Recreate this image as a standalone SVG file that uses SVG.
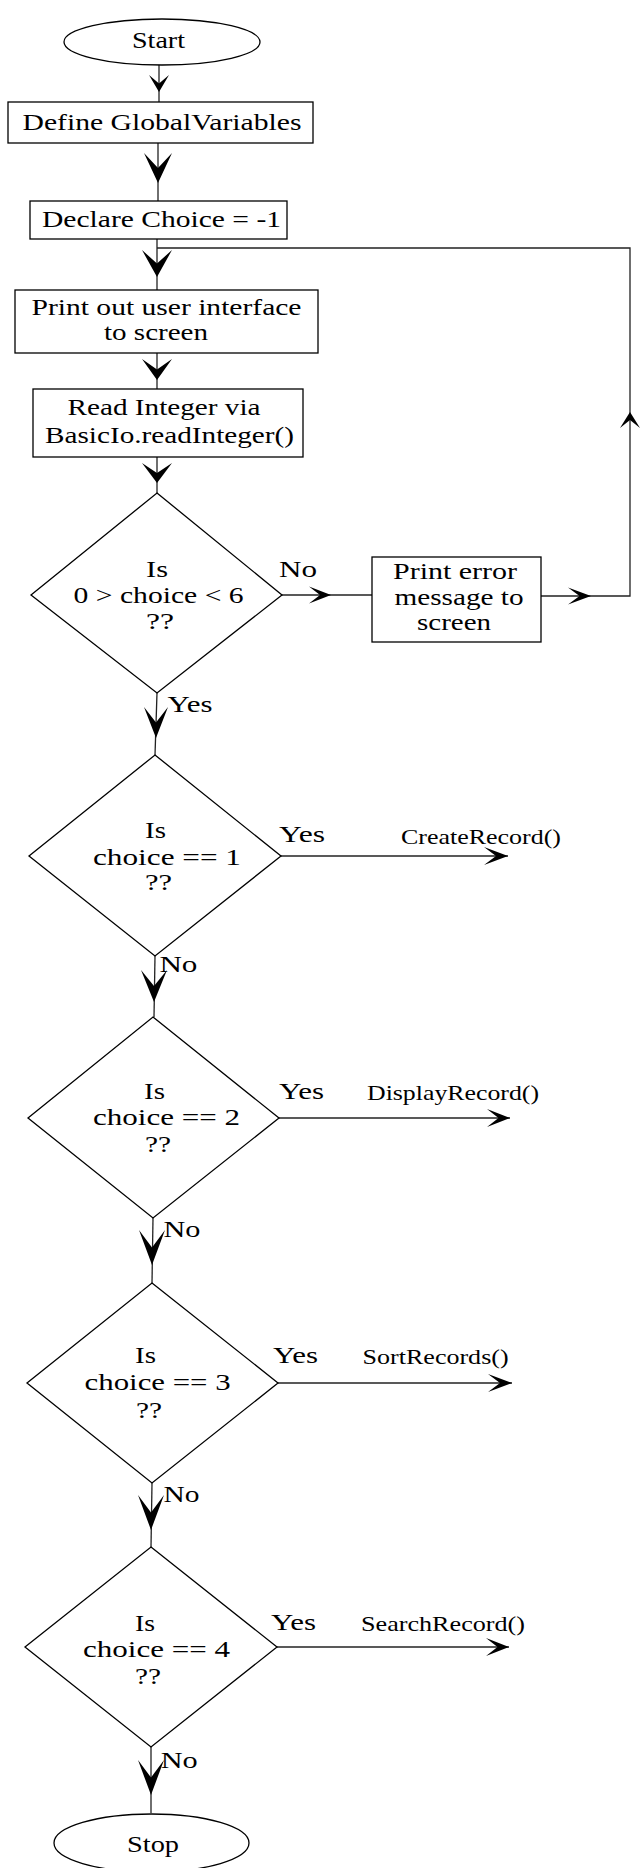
<svg xmlns="http://www.w3.org/2000/svg" xmlns:xlink="http://www.w3.org/1999/xlink" width="641" height="1868" viewBox="0 0 641 1868">
<style>
.shape{fill:#fff;stroke:#000;stroke-width:1.3}
.ln{fill:none;stroke:#222;stroke-width:1.3}
.t{font-family:"Liberation Serif","Times New Roman",serif;font-size:24px;fill:#000}
.s{font-family:"Liberation Serif","Times New Roman",serif;font-size:22px;fill:#000}
.ah{fill:#000}
</style>
<defs>
<path id="ah" d="M0,0 L-1,-0.5 L-0.5,0 L-1,0.5 Z"/>
</defs>
<rect width="641" height="1868" fill="#fff"/>
<g id="connectors">
<line class="ln" x1="159" y1="64" x2="159" y2="102"/>
<use href="#ah" class="ah" transform="translate(159,92) rotate(90) scale(17,20)"/>
<line class="ln" x1="158" y1="143" x2="158" y2="201"/>
<use href="#ah" class="ah" transform="translate(158,183) rotate(90) scale(30,28)"/>
<line class="ln" x1="157" y1="239" x2="157" y2="290"/>
<use href="#ah" class="ah" transform="translate(157,277) rotate(90) scale(27,30)"/>
<line class="ln" x1="157" y1="353" x2="157" y2="389"/>
<use href="#ah" class="ah" transform="translate(157,380) rotate(90) scale(21,30)"/>
<line class="ln" x1="157" y1="457" x2="157" y2="493"/>
<use href="#ah" class="ah" transform="translate(157,483) rotate(90) scale(20,30)"/>
<line class="ln" x1="282" y1="595" x2="372" y2="595"/>
<use href="#ah" class="ah" transform="translate(331,595) scale(22,17)"/>
<polyline class="ln" points="541,596 630,596 630,248 157,248"/>
<use href="#ah" class="ah" transform="translate(591,596) scale(23,17)"/>
<use href="#ah" class="ah" transform="translate(630,412) rotate(-90) scale(16,20)"/>
<line class="ln" x1="157" y1="693" x2="155" y2="755"/>
<use href="#ah" class="ah" transform="translate(156,738) rotate(90) scale(31,24)"/>
<line class="ln" x1="281" y1="856" x2="508" y2="856"/>
<use href="#ah" class="ah" transform="translate(508,856) scale(24,18)"/>
<line class="ln" x1="155" y1="956" x2="154" y2="1017"/>
<use href="#ah" class="ah" transform="translate(154,1002) rotate(90) scale(32,26)"/>
<line class="ln" x1="279" y1="1118" x2="510" y2="1118"/>
<use href="#ah" class="ah" transform="translate(510,1118) scale(23,18)"/>
<line class="ln" x1="153" y1="1218" x2="152" y2="1283"/>
<use href="#ah" class="ah" transform="translate(152,1265) rotate(90) scale(35,26)"/>
<line class="ln" x1="278" y1="1383" x2="512" y2="1383"/>
<use href="#ah" class="ah" transform="translate(512,1383) scale(24,18)"/>
<line class="ln" x1="152" y1="1483" x2="151" y2="1547"/>
<use href="#ah" class="ah" transform="translate(151,1530) rotate(90) scale(35,26)"/>
<line class="ln" x1="277" y1="1647" x2="509" y2="1647"/>
<use href="#ah" class="ah" transform="translate(509,1647) scale(23,18)"/>
<line class="ln" x1="151" y1="1747" x2="151" y2="1813"/>
<use href="#ah" class="ah" transform="translate(151,1795) rotate(90) scale(35,26)"/>
</g>
<g id="start">
<ellipse class="shape" cx="162" cy="42" rx="98" ry="23"/>
<text class="t" x="132" y="48" textLength="53" lengthAdjust="spacingAndGlyphs">Start</text>
</g>
<g id="define">
<rect class="shape" x="8" y="102" width="305" height="41"/>
<text class="t" x="22.5" y="130" textLength="279" lengthAdjust="spacingAndGlyphs">Define GlobalVariables</text>
</g>
<g id="declare">
<rect class="shape" x="30" y="201" width="257" height="38"/>
<text class="t" x="42" y="227" textLength="239" lengthAdjust="spacingAndGlyphs">Declare Choice = -1</text>
</g>
<g id="print">
<rect class="shape" x="15" y="290" width="303" height="63"/>
<text class="t" x="31.5" y="315" textLength="270" lengthAdjust="spacingAndGlyphs">Print out user interface</text>
<text class="t" x="104" y="340" textLength="104" lengthAdjust="spacingAndGlyphs">to screen</text>
</g>
<g id="read">
<rect class="shape" x="33" y="389" width="270" height="68"/>
<text class="t" x="67.5" y="415" textLength="193" lengthAdjust="spacingAndGlyphs">Read Integer via</text>
<text class="t" x="45" y="443" textLength="249" lengthAdjust="spacingAndGlyphs">BasicIo.readInteger()</text>
</g>
<g id="check-range">
<polygon class="shape" points="157,493 282,595 157,693 31,595"/>
<text class="t" x="146" y="577" textLength="22" lengthAdjust="spacingAndGlyphs">Is</text>
<text class="t" x="73.6" y="603" textLength="170" lengthAdjust="spacingAndGlyphs">0 &gt; choice &lt; 6</text>
<text class="t" x="146" y="629" textLength="28" lengthAdjust="spacingAndGlyphs">??</text>
<text class="t" x="279" y="577" textLength="38" lengthAdjust="spacingAndGlyphs">No</text>
<text class="t" x="167.6" y="712" textLength="45" lengthAdjust="spacingAndGlyphs">Yes</text>
</g>
<g id="error">
<rect class="shape" x="372" y="557" width="169" height="85"/>
<text class="t" x="393" y="579" textLength="124" lengthAdjust="spacingAndGlyphs">Print error</text>
<text class="t" x="394.5" y="605" textLength="129" lengthAdjust="spacingAndGlyphs">message to</text>
<text class="t" x="417" y="630" textLength="74" lengthAdjust="spacingAndGlyphs">screen</text>
</g>
<g id="choice1">
<polygon class="shape" points="155,755 281,856 155,956 29,856"/>
<text class="t" x="145" y="838" textLength="21" lengthAdjust="spacingAndGlyphs">Is</text>
<text class="t" x="93" y="865" textLength="148" lengthAdjust="spacingAndGlyphs">choice == 1</text>
<text class="t" x="145" y="890" textLength="27" lengthAdjust="spacingAndGlyphs">??</text>
<text class="t" x="279" y="842" textLength="46" lengthAdjust="spacingAndGlyphs">Yes</text>
<text class="s" x="401" y="844" textLength="160" lengthAdjust="spacingAndGlyphs">CreateRecord()</text>
<text class="t" x="159.4" y="972" textLength="38" lengthAdjust="spacingAndGlyphs">No</text>
</g>
<g id="choice2">
<polygon class="shape" points="153,1017 279,1118 153,1218 28,1118"/>
<text class="t" x="144" y="1099" textLength="21" lengthAdjust="spacingAndGlyphs">Is</text>
<text class="t" x="93" y="1125" textLength="147" lengthAdjust="spacingAndGlyphs">choice == 2</text>
<text class="t" x="145" y="1152" textLength="26" lengthAdjust="spacingAndGlyphs">??</text>
<text class="t" x="279" y="1099" textLength="45" lengthAdjust="spacingAndGlyphs">Yes</text>
<text class="s" x="367" y="1100" textLength="172" lengthAdjust="spacingAndGlyphs">DisplayRecord()</text>
<text class="t" x="163.5" y="1237" textLength="37" lengthAdjust="spacingAndGlyphs">No</text>
</g>
<g id="choice3">
<polygon class="shape" points="152,1283 278,1383 152,1483 27,1383"/>
<text class="t" x="135" y="1363" textLength="21" lengthAdjust="spacingAndGlyphs">Is</text>
<text class="t" x="84.6" y="1390" textLength="146" lengthAdjust="spacingAndGlyphs">choice == 3</text>
<text class="t" x="136" y="1418" textLength="26" lengthAdjust="spacingAndGlyphs">??</text>
<text class="t" x="273" y="1363" textLength="45" lengthAdjust="spacingAndGlyphs">Yes</text>
<text class="s" x="362.6" y="1364" textLength="146" lengthAdjust="spacingAndGlyphs">SortRecords()</text>
<text class="t" x="163.5" y="1502" textLength="36" lengthAdjust="spacingAndGlyphs">No</text>
</g>
<g id="choice4">
<polygon class="shape" points="151,1547 277,1647 151,1747 25,1647"/>
<text class="t" x="135" y="1631" textLength="20" lengthAdjust="spacingAndGlyphs">Is</text>
<text class="t" x="83" y="1657" textLength="147" lengthAdjust="spacingAndGlyphs">choice == 4</text>
<text class="t" x="135" y="1684" textLength="26" lengthAdjust="spacingAndGlyphs">??</text>
<text class="t" x="271" y="1630" textLength="45" lengthAdjust="spacingAndGlyphs">Yes</text>
<text class="s" x="361" y="1631" textLength="164" lengthAdjust="spacingAndGlyphs">SearchRecord()</text>
<text class="t" x="160.7" y="1768" textLength="37" lengthAdjust="spacingAndGlyphs">No</text>
</g>
<g id="stop">
<ellipse class="shape" cx="151.5" cy="1843" rx="97.5" ry="29"/>
<text class="t" x="127" y="1852" textLength="52" lengthAdjust="spacingAndGlyphs">Stop</text>
</g>
</svg>
